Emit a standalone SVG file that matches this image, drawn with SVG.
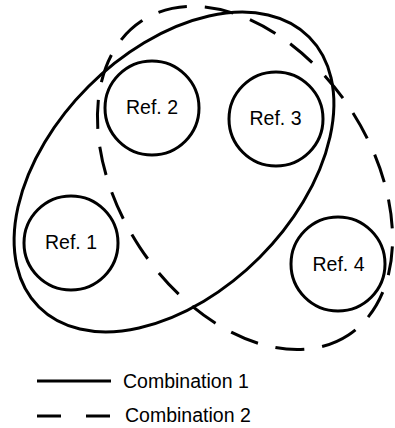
<svg xmlns="http://www.w3.org/2000/svg" width="395" height="428" viewBox="0 0 395 428">
<style>
.ref{fill:none;stroke:#000;stroke-width:3}
.solid{fill:none;stroke:#000;stroke-width:3}
.dash{fill:none;stroke:#000;stroke-width:3;stroke-dasharray:29 18}
text{font-family:"Liberation Sans",Arial,sans-serif;font-size:19.5px;fill:#000}
.lbl{text-anchor:middle}
</style>
<rect width="395" height="428" fill="#fff"/>
<g id="connectors">
<ellipse id="combination1" class="solid" cx="174" cy="172" rx="191" ry="121" transform="rotate(-45 174 172)"/>
<ellipse id="combination2" class="dash" cx="245" cy="178" rx="188" ry="126" transform="rotate(56.6 245 178)"/>
</g>
<g id="ref1"><circle class="ref" cx="71" cy="243" r="47"/><text class="lbl" x="71" y="249">Ref. 1</text></g>
<g id="ref2"><circle class="ref" cx="152" cy="108" r="47"/><text class="lbl" x="152" y="114">Ref. 2</text></g>
<g id="ref3"><circle class="ref" cx="276" cy="119" r="47"/><text class="lbl" x="275.5" y="125">Ref. 3</text></g>
<g id="ref4"><circle class="ref" cx="338" cy="264" r="47"/><text class="lbl" x="338.5" y="271">Ref. 4</text></g>
<g id="legend">
<line class="solid" x1="37" y1="381" x2="111" y2="381"/>
<text x="123" y="388">Combination 1</text>
<line class="dash" x1="37" y1="416" x2="111" y2="416" style="stroke-dasharray:24 25"/>
<text x="125" y="422">Combination 2</text>
</g>
</svg>
